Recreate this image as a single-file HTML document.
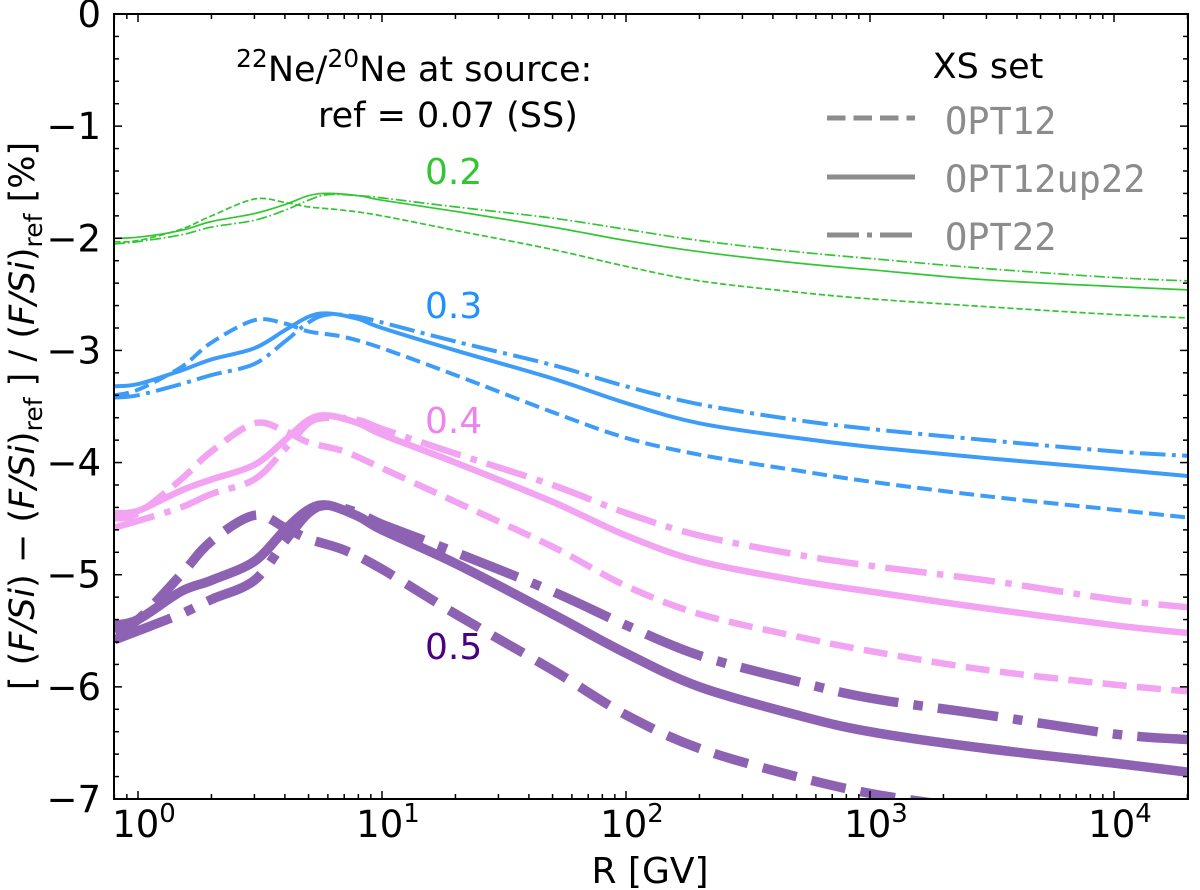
<!DOCTYPE html>
<html><head><meta charset="utf-8"><style>
html,body{margin:0;padding:0;background:#fff;}
svg{display:block;font-family:"DejaVu Sans","Liberation Sans",sans-serif;}
</style></head><body>
<svg id="chart" width="1200" height="890" viewBox="0 0 1200 890" xmlns="http://www.w3.org/2000/svg">
<defs><clipPath id="plotclip"><rect x="114" y="14" width="1074" height="785"/></clipPath></defs>
<g id="lines" clip-path="url(#plotclip)"></g>
<g id="axes"></g>
<text x="236" y="81" font-size="35" fill="#000"><tspan font-size="25" dy="-14">22</tspan><tspan dy="14">Ne/</tspan><tspan font-size="25" dy="-14">20</tspan><tspan dy="14">Ne at source:</tspan></text>
<text x="318" y="127" font-size="35" fill="#000">ref = 0.07 (SS)</text>
<text x="425" y="184" font-size="36" fill="#33c633">0.2</text>
<text x="425" y="318" font-size="36" fill="#1e90ff">0.3</text>
<text x="425" y="433" font-size="36" fill="#ee82ee">0.4</text>
<text x="425" y="659" font-size="36" fill="#4b0082">0.5</text>
<g>
<text x="988" y="78" font-size="35" text-anchor="middle" fill="#000">XS set</text>
<line x1="827" y1="118" x2="915" y2="118" stroke="#8c8c8c" stroke-width="5" stroke-dasharray="18.5 8"/>
<line x1="827" y1="177" x2="915" y2="177" stroke="#8c8c8c" stroke-width="5"/>
<line x1="827" y1="235" x2="915" y2="235" stroke="#8c8c8c" stroke-width="5" stroke-dasharray="32 8 5 8"/>
<text x="945" y="134" font-size="37" fill="#8c8c8c" font-family="DejaVu Sans Mono, Liberation Mono, monospace">OPT12</text>
<text x="945" y="192" font-size="37" fill="#8c8c8c" font-family="DejaVu Sans Mono, Liberation Mono, monospace">OPT12up22</text>
<text x="945" y="250" font-size="37" fill="#8c8c8c" font-family="DejaVu Sans Mono, Liberation Mono, monospace">OPT22</text>
</g>
<text x="650" y="883" font-size="36" text-anchor="middle">R [GV]</text>
<text transform="translate(34,416) rotate(-90)" font-size="35" text-anchor="middle">[ (<tspan font-style="italic">F/Si</tspan>) − (<tspan font-style="italic">F/Si</tspan>)<tspan font-size="25" dy="8">ref</tspan><tspan dy="-8"> ] / (</tspan><tspan font-style="italic">F/Si</tspan>)<tspan font-size="25" dy="8">ref</tspan><tspan dy="-8">  [%]</tspan></text>
</svg>
<script>
const NS="http://www.w3.org/2000/svg";
const R=[0.8,1,1.5,2,3,4,5,6,8,10,20,50,100,200,500,1000,3000,10000,20000];
const Rd=[0.8,1,1.5,2,3,4,5,7,10,20,50,100,200,500,1000,3000,10000,20000];
const Rd5=[0.8,1,1.5,2,3,4,5,7,10,20,50,100,200,500,1000,2000];
const g_solid=[-2.00,-1.99,-1.93,-1.85,-1.78,-1.70,-1.62,-1.60,-1.62,-1.66,-1.76,-1.90,-2.02,-2.12,-2.22,-2.28,-2.37,-2.43,-2.46];
const g_dash=[-2.03,-2.02,-1.92,-1.80,-1.65,-1.68,-1.72,-1.75,-1.80,-1.93,-2.10,-2.25,-2.38,-2.48,-2.54,-2.61,-2.68,-2.71];
const g_dd=[-2.05,-2.03,-1.97,-1.90,-1.84,-1.75,-1.66,-1.61,-1.62,-1.64,-1.72,-1.82,-1.92,-2.02,-2.12,-2.18,-2.27,-2.35,-2.38];
const b_solid=[-3.32,-3.30,-3.18,-3.08,-2.98,-2.82,-2.70,-2.67,-2.72,-2.80,-3.00,-3.25,-3.47,-3.65,-3.78,-3.86,-3.96,-4.06,-4.12];
const b_dash=[-3.40,-3.35,-3.15,-2.93,-2.73,-2.76,-2.83,-2.88,-2.98,-3.22,-3.55,-3.78,-3.93,-4.07,-4.17,-4.30,-4.42,-4.49];
const b_dd=[-3.42,-3.40,-3.30,-3.22,-3.12,-2.92,-2.75,-2.68,-2.70,-2.75,-2.92,-3.13,-3.32,-3.48,-3.62,-3.70,-3.80,-3.90,-3.94];
const p_solid=[-4.45,-4.43,-4.25,-4.15,-4.02,-3.80,-3.62,-3.58,-3.65,-3.75,-4.00,-4.35,-4.65,-4.88,-5.05,-5.15,-5.30,-5.45,-5.52];
const p_dash=[-4.50,-4.45,-4.15,-3.90,-3.65,-3.72,-3.82,-3.90,-4.05,-4.35,-4.75,-5.10,-5.35,-5.55,-5.68,-5.85,-5.98,-6.04];
const p_dd=[-4.58,-4.52,-4.40,-4.28,-4.15,-3.88,-3.65,-3.60,-3.62,-3.70,-3.92,-4.20,-4.45,-4.65,-4.82,-4.92,-5.05,-5.22,-5.29];
const u_solid=[-5.45,-5.40,-5.15,-5.05,-4.88,-4.60,-4.42,-4.38,-4.48,-4.60,-4.90,-5.35,-5.70,-6.00,-6.25,-6.40,-6.55,-6.68,-6.76];
const u_dash=[-5.50,-5.40,-5.00,-4.70,-4.47,-4.58,-4.68,-4.78,-4.95,-5.35,-5.85,-6.25,-6.55,-6.80,-6.95,-7.05];
const u_dd=[-5.58,-5.50,-5.35,-5.22,-5.05,-4.70,-4.45,-4.38,-4.45,-4.55,-4.80,-5.15,-5.45,-5.72,-5.95,-6.10,-6.25,-6.42,-6.47];
const yTicks=[0,-1,-2,-3,-4,-5,-6,-7];
const xTickExp=[0,1,2,3,4];

const X0=114,X1=1188,Y0=14,Y1=799;
const LXMIN=Math.log10(0.8),LXMAX=Math.log10(20000);
function xs(r){return 138+244*Math.log10(r);}
function ys(v){return Y0+(0-v)/7*(Y1-Y0);}

function path(xv,yv){
  const p=xv.map((r,i)=>[xs(r),ys(yv[i])]);
  let d="M"+p[0][0].toFixed(1)+","+p[0][1].toFixed(1);
  for(let i=0;i<p.length-1;i++){
    const a=p[i-1]||p[i],b=p[i],c=p[i+1],e=p[i+2]||c;
    const c1=[b[0]+(c[0]-a[0])/6,b[1]+(c[1]-a[1])/6];
    const c2=[c[0]-(e[0]-b[0])/6,c[1]-(e[1]-b[1])/6];
    d+="C"+c1[0].toFixed(1)+","+c1[1].toFixed(1)+" "+c2[0].toFixed(1)+","+c2[1].toFixed(1)+" "+c[0].toFixed(1)+","+c[1].toFixed(1);
  }
  return d;
}
const lines=document.getElementById('lines');
function draw(name,xv,yv,color,lw,style){
  const el=document.createElementNS(NS,'path');
  
  
  el.setAttribute('d',path(xv,yv));
  el.setAttribute('fill','none');
  el.setAttribute('stroke',color);
  el.setAttribute('stroke-width',lw);
  if(style==='dash')el.setAttribute('stroke-dasharray',(3.7*lw)+' '+(1.6*lw));
  if(style==='dd')el.setAttribute('stroke-dasharray',(6.4*lw)+' '+(1.6*lw)+' '+(1*lw)+' '+(1.6*lw));
  lines.appendChild(el);
}
const cG='#33c633',cB='#3d9cf7',cP='#f2a3f2',cU='#8e62b2';
draw('line-0.2-opt12',Rd,g_dash,cG,1.7,'dash');
draw('line-0.2-opt12up22',R,g_solid,cG,1.7,'solid');
draw('line-0.2-opt22',R,g_dd,cG,1.7,'dd');
draw('line-0.3-opt12',Rd,b_dash,cB,4,'dash');
draw('line-0.3-opt12up22',R,b_solid,cB,4,'solid');
draw('line-0.3-opt22',R,b_dd,cB,4,'dd');
draw('line-0.4-opt12',Rd,p_dash,cP,6.5,'dash');
draw('line-0.4-opt12up22',R,p_solid,cP,6.5,'solid');
draw('line-0.4-opt22',R,p_dd,cP,6.5,'dd');
draw('line-0.5-opt12',Rd5,u_dash,cU,9.5,'dash');
draw('line-0.5-opt12up22',R,u_solid,cU,9.5,'solid');
draw('line-0.5-opt22',R,u_dd,cU,9.5,'dd');

const axes=document.getElementById('axes');
function ln(name,x1,y1,x2,y2,w){
  const l=document.createElementNS(NS,'line');
  
  
  l.setAttribute('x1',x1);l.setAttribute('y1',y1);l.setAttribute('x2',x2);l.setAttribute('y2',y2);
  l.setAttribute('stroke','#000');l.setAttribute('stroke-width',w);
  axes.appendChild(l);
}
function tx(name,x,y,html,anchor){
  const t=document.createElementNS(NS,'text');
  
  
  t.setAttribute('x',x);t.setAttribute('y',y);
  t.setAttribute('font-size','37');
  t.setAttribute('text-anchor',anchor);
  t.innerHTML=html;
  axes.appendChild(t);
}
for(let v=0;v>=-7.001;v-=0.2){
  const y=ys(v);const major=Math.abs(v-Math.round(v))<1e-6;
  const L=major?8:5;
  ln('y-tick',X0,y,X0+L,y,1.5);
  ln('y-tick-right',X1,y,X1-L,y,1.5);
}
yTicks.forEach(v=>{tx('y-tick-label',101,ys(v)+13,(v<0?'−':'')+Math.abs(v),'end');});
for(let e=-1;e<=4;e++){
  for(let m=1;m<=9;m++){
    const r=m*Math.pow(10,e);
    const lr=Math.log10(r);
    if(lr<LXMIN||lr>LXMAX)continue;
    const x=xs(r);const L=m===1?8:5;
    ln('x-tick',x,Y1,x,Y1-L,1.5);
    ln('x-tick-top',x,Y0,x,Y0+L,1.5);
  }
}
xTickExp.forEach(e=>{tx('x-tick-label',xs(Math.pow(10,e))+6,837,'10<tspan font-size="26" dy="-15">'+e+'</tspan>','middle');});
const fr=document.createElementNS(NS,'rect');


fr.setAttribute('x',X0);fr.setAttribute('y',Y0);fr.setAttribute('width',X1-X0);fr.setAttribute('height',Y1-Y0);
fr.setAttribute('fill','none');fr.setAttribute('stroke','#000');fr.setAttribute('stroke-width','2');
axes.appendChild(fr);
</script>
</body></html>
